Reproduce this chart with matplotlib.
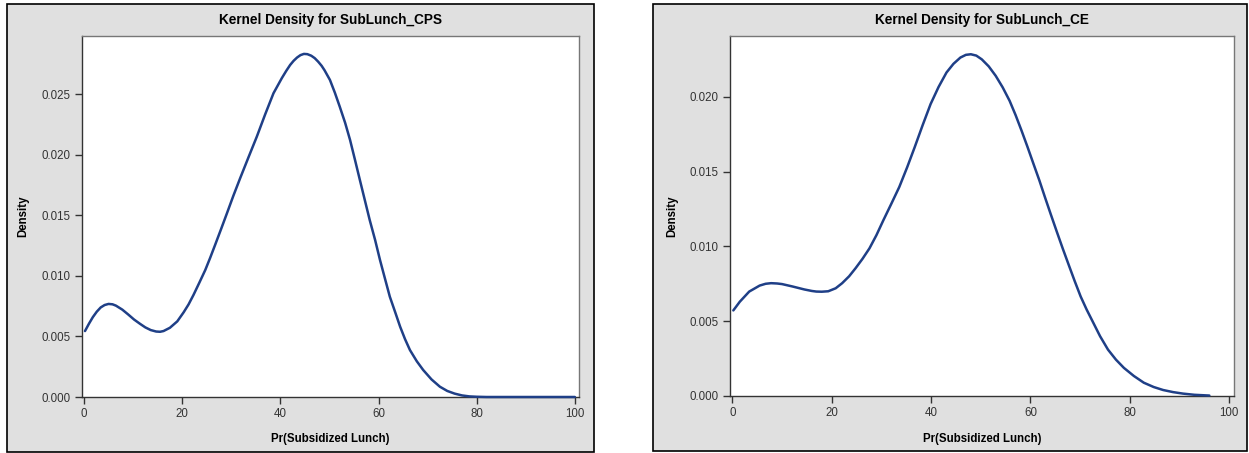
import matplotlib
matplotlib.use("Agg")
import matplotlib.pyplot as plt
from matplotlib.patches import Rectangle

# ---- data ----
cps_x = [0.2, 1.0, 1.8, 2.6, 3.4, 4.2, 5.0, 5.8, 6.5, 7.8, 9.0, 10.2, 11.4, 12.5,
         13.6, 14.7, 15.5, 16.2, 17.5, 19.0, 20.3, 21.3, 22.3, 23.5, 24.7, 25.7,
         26.7, 27.9, 29.1, 30.4, 31.8, 33.5, 35.2, 36.9, 38.6, 40.3, 41.2, 42.0,
         42.7, 43.4, 44.1, 44.8, 45.5, 46.3, 47.0, 47.7, 48.4, 49.0, 50.1, 51.1,
         52.1, 53.2, 54.2, 55.2, 56.2, 57.2, 58.2, 59.3, 60.3, 61.3, 62.3, 63.4,
         64.4, 65.4, 66.4, 67.8, 69.1, 70.8, 72.5, 74.0, 75.5, 77.0, 78.5, 80.0,
         82.0, 90.0, 100.0]
cps_y = [0.00545, 0.00605, 0.00660, 0.00705, 0.00740, 0.00760, 0.00769, 0.00766,
         0.00755, 0.00722, 0.00682, 0.00640, 0.00605, 0.00575, 0.00553, 0.00541,
         0.00539, 0.00545, 0.00572, 0.00625, 0.00700, 0.00765, 0.00843, 0.00945,
         0.01049, 0.01150, 0.01256, 0.01385, 0.01516, 0.01660, 0.01807, 0.01980,
         0.02151, 0.02335, 0.02510, 0.02635, 0.02695, 0.02744, 0.02778, 0.02805,
         0.02825, 0.02835, 0.02833, 0.02820, 0.02800, 0.02771, 0.02737, 0.02700,
         0.02620, 0.02515, 0.02399, 0.02265, 0.02124, 0.01960, 0.01793, 0.01628,
         0.01463, 0.01298, 0.01132, 0.00980, 0.00829, 0.00700, 0.00581, 0.00478,
         0.00388, 0.00295, 0.00223, 0.00145, 0.00085, 0.00050, 0.00028, 0.00013,
         0.00005, 0.00002, 0.0, 0.0, 0.0]

ce_x = [0.2, 1.5, 3.4, 5.5, 6.7, 7.8, 9.0, 10.0, 12.1, 14.5, 16.0, 16.9, 18.0,
        19.3, 20.8, 22.1, 23.5, 24.8, 26.2, 27.6, 29.0, 30.4, 32.0, 33.6, 35.2,
        36.7, 38.3, 39.9, 41.5, 43.1, 44.5, 45.9, 47.0, 48.0, 49.1, 50.2, 51.6,
        53.0, 54.4, 55.8, 57.0, 58.2, 59.4, 60.6, 61.8, 62.9, 64.1, 65.3, 66.5,
        67.7, 68.9, 70.1, 71.3, 72.5, 74.0, 75.6, 77.2, 78.8, 80.8, 82.8, 84.8,
        86.7, 88.7, 90.7, 93.0, 96.0]
ce_y = [0.00572, 0.00630, 0.00698, 0.00738, 0.00750, 0.00754, 0.00752, 0.00748,
        0.00732, 0.00712, 0.00702, 0.00698, 0.00697, 0.00700, 0.00720, 0.00754,
        0.00800, 0.00854, 0.00917, 0.00987, 0.01075, 0.01175, 0.01285, 0.01397,
        0.01530, 0.01663, 0.01810, 0.01951, 0.02065, 0.02162, 0.02220, 0.02262,
        0.02280, 0.02284, 0.02275, 0.02250, 0.02203, 0.02140, 0.02063, 0.01973,
        0.01878, 0.01774, 0.01665, 0.01552, 0.01440, 0.01330, 0.01213, 0.01098,
        0.00985, 0.00876, 0.00768, 0.00665, 0.00578, 0.00499, 0.00400, 0.00310,
        0.00243, 0.00188, 0.00134, 0.00089, 0.00060, 0.00040, 0.00026, 0.00016,
        0.00008, 0.00003]

titles = ["Kernel Density for SubLunch_CPS", "Kernel Density for SubLunch_CE"]
x_label = "Pr(Subsidized Lunch)"
y_label = "Density"
x_ticks = [0, 20, 40, 60, 80, 100]
cps_yticks = [0.000, 0.005, 0.010, 0.015, 0.020, 0.025]
ce_yticks = [0.000, 0.005, 0.010, 0.015, 0.020]

# ---- styling ----
plt.rcParams['font.family'] = ['Liberation Sans', 'DejaVu Sans']
W, H = 1249, 453
fig = plt.figure(figsize=(W / 100, H / 100), dpi=100)
fig.patch.set_facecolor("white")

panel_bg = "#e0e0e0"
line_col = "#1f3f87"
spine_col = "#333333"

def px_rect(x0, y0, x1, y1):
    return [x0 / W, 1 - y1 / H, (x1 - x0) / W, (y1 - y0) / H]

# panel backgrounds
for (x0, y0, x1, y1) in [(6.7, 4.3, 594.3, 451.5), (653.3, 4.3, 1247.3, 450.7)]:
    r = Rectangle((x0 / W, 1 - y1 / H), (x1 - x0) / W, (y1 - y0) / H,
                  transform=fig.transFigure, facecolor=panel_bg,
                  edgecolor="black", linewidth=1.2, zorder=-10)
    fig.add_artist(r)

ax1 = fig.add_axes(px_rect(81.7, 36, 579.3, 397))
ax2 = fig.add_axes(px_rect(730, 36, 1233.7, 396))

setups = [
    (ax1, cps_x, cps_y, cps_yticks, 0.02983, titles[0]),
    (ax2, ce_x, ce_y, ce_yticks, 0.02406, titles[1]),
]

for ax, xs, ys, yt, ytop, title in setups:
    ax.set_zorder(1)
    ax.set_facecolor("white")
    ax.plot(xs, ys, color=line_col, linewidth=1.8, solid_capstyle="round",
            solid_joinstyle="round", clip_on=False, zorder=3)
    ax.set_xlim(-0.47, 100.9)
    ax.set_ylim(0, ytop)
    ax.set_xticks(x_ticks)
    ax.set_xticklabels([str(t) for t in x_ticks])
    ax.set_yticks(yt)
    ax.set_yticklabels([f"{t:.3f}" for t in yt])
    ax.tick_params(axis="both", direction="out", length=5, width=1,
                   color=spine_col, labelcolor="#333333", labelsize=8.3, pad=3)
    for side in ["left", "bottom"]:
        ax.spines[side].set_color(spine_col)
        ax.spines[side].set_linewidth(1.0)
    for side in ["top", "right"]:
        ax.spines[side].set_color("#777777")
        ax.spines[side].set_linewidth(1.0)
    ax.set_title(title, fontsize=9.8, fontweight="bold", color="black", pad=9)
    ax.set_xlabel(x_label, fontsize=8.3, fontweight="bold", color="black")
    ax.set_ylabel(y_label, fontsize=8.3, fontweight="bold", color="black")

ax1.xaxis.set_label_coords(0.5, -0.10)
ax2.xaxis.set_label_coords(0.5, -0.103)
ax1.yaxis.set_label_coords(-0.106, 0.5)
ax2.yaxis.set_label_coords(-0.102, 0.5)

fig.savefig("out.png", dpi=100, facecolor="white")
